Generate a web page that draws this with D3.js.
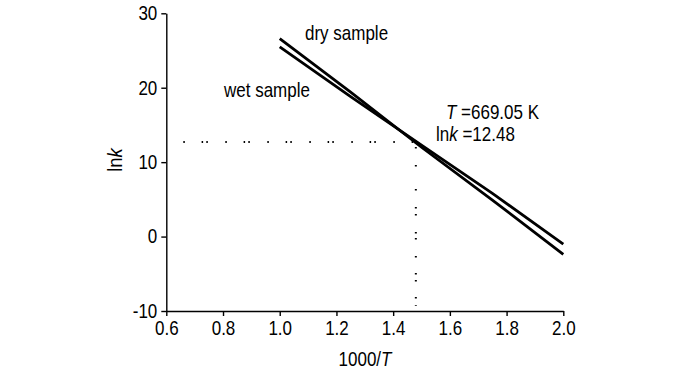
<!DOCTYPE html>
<html>
<head>
<meta charset="utf-8">
<script src="https://cdn.jsdelivr.net/npm/d3@7"></script>
<style>
  body { margin: 0; background: #fff; }
  svg text { font-family: "Liberation Sans", Arial, sans-serif; fill: #000; }
</style>
</head>
<body>
<div class="holder"></div>
<script>
// 1000/T ticks and lnk ticks
var xTicks = [0.6, 0.8, 1.0, 1.2, 1.4, 1.6, 1.8, 2.0]
var yTicks = [-10, 0, 10, 20, 30]

// fitted Arrhenius lines
var inverseT = [1.0, 1.25, 1.5, 1.75, 2.0]
var drySample = [26.6, 19.4, 12.0, 4.9, -2.4]
var wetSample = [25.5, 18.8, 12.3, 5.8, -1.0]

// intersection point (dotted guides)
var crossX = 1.48
var crossY = 12.7
var guideStartX = 0.66
var guideEndY = -9.3

var width = 700,
    height = 373;

// the original uses a narrow sans, so squeeze text horizontally
var squeeze = 0.85

var x = d3.scaleLinear().domain([0.6, 2.0]).range([166.3, 563.3])
var y = d3.scaleLinear().domain([-10, 30]).range([311, 13.3])

var svg = d3.select(".holder").append("svg")
    .attr("width", width)
    .attr("height", height)

// axes
var xAxis = svg.append("g")
    .attr("transform", "translate(0," + y(-10) + ")")
    .call(d3.axisBottom(x).tickValues(xTicks).tickFormat(d3.format(".1f")).tickSize(5).tickSizeOuter(0))
var yAxis = svg.append("g")
    .attr("transform", "translate(" + x(0.6) + ",0)")
    .call(d3.axisLeft(y).tickValues(yTicks).tickFormat(function(d) { return String(d) }).tickSize(5).tickSizeOuter(0))

svg.selectAll(".domain, .tick line")
    .attr("stroke", "#000")
    .attr("stroke-width", 1.4)

xAxis.selectAll("text")
    .attr("y", 10)
    .attr("transform", "scale(" + squeeze + ",1)")
    .style("font-size", "20px")
yAxis.selectAll("text")
    .attr("x", -9 / squeeze)
    .attr("transform", "scale(" + squeeze + ",1)")
    .style("font-size", "20px")

// dotted guide lines
svg.append("line")
    .attr("x1", x(guideStartX))
    .attr("x2", x(crossX))
    .attr("y1", y(crossY))
    .attr("y2", y(crossY))
    .attr("stroke", "#000")
    .attr("stroke-width", 2)
    .attr("stroke-dasharray", "1.5,16.8,1.5,3.2,1.5,17.5")

svg.append("line")
    .attr("x1", x(crossX))
    .attr("x2", x(crossX))
    .attr("y1", y(crossY) + 5)
    .attr("y2", y(guideEndY))
    .attr("stroke", "#000")
    .attr("stroke-width", 2)
    .attr("stroke-dasharray", "1.5,16.5,1.5,22.5,1.5,16.5,1.5,5.5,1.5,16.5,1.5,4.5,1.5,16.5,1.5,15.5,1.5,5.5,1.5,15.5,1.5,6.5,1.5,100")

// sample lines
var line = d3.line()
    .x(function(d) { return x(d[0]) })
    .y(function(d) { return y(d[1]) })

var series = [drySample, wetSample]
svg.selectAll(".sample")
    .data(series)
    .enter().append("path")
    .attr("class", "sample")
    .attr("d", function(s) { return line(inverseT.map(function(t, i) { return [t, s[i]] })) })
    .attr("fill", "none")
    .attr("stroke", "#000")
    .attr("stroke-width", 2.8)

// labels
function label(px, py) {
    return svg.append("text")
        .attr("transform", "translate(" + px + "," + py + ") scale(" + squeeze + ",1)")
        .style("font-size", "20px")
}

label(305, 40).text("dry sample")
label(224, 97).text("wet sample")

var tLabel = label(446, 119)
tLabel.append("tspan").style("font-style", "italic").text("T")
tLabel.append("tspan").text(" =669.05 K")

var kLabel = label(436, 141)
kLabel.append("tspan").text("ln")
kLabel.append("tspan").style("font-style", "italic").text("k")
kLabel.append("tspan").text(" =12.48")

var xTitle = label(365, 366)
    .attr("text-anchor", "middle")
xTitle.append("tspan").text("1000/")
xTitle.append("tspan").style("font-style", "italic").text("T")

var yTitle = svg.append("text")
    .attr("transform", "translate(122,160) rotate(-90) scale(0.92,1)")
    .attr("text-anchor", "middle")
    .style("font-size", "20px")
yTitle.append("tspan").text("ln")
yTitle.append("tspan").style("font-style", "italic").text("k")
</script>
</body>
</html>
